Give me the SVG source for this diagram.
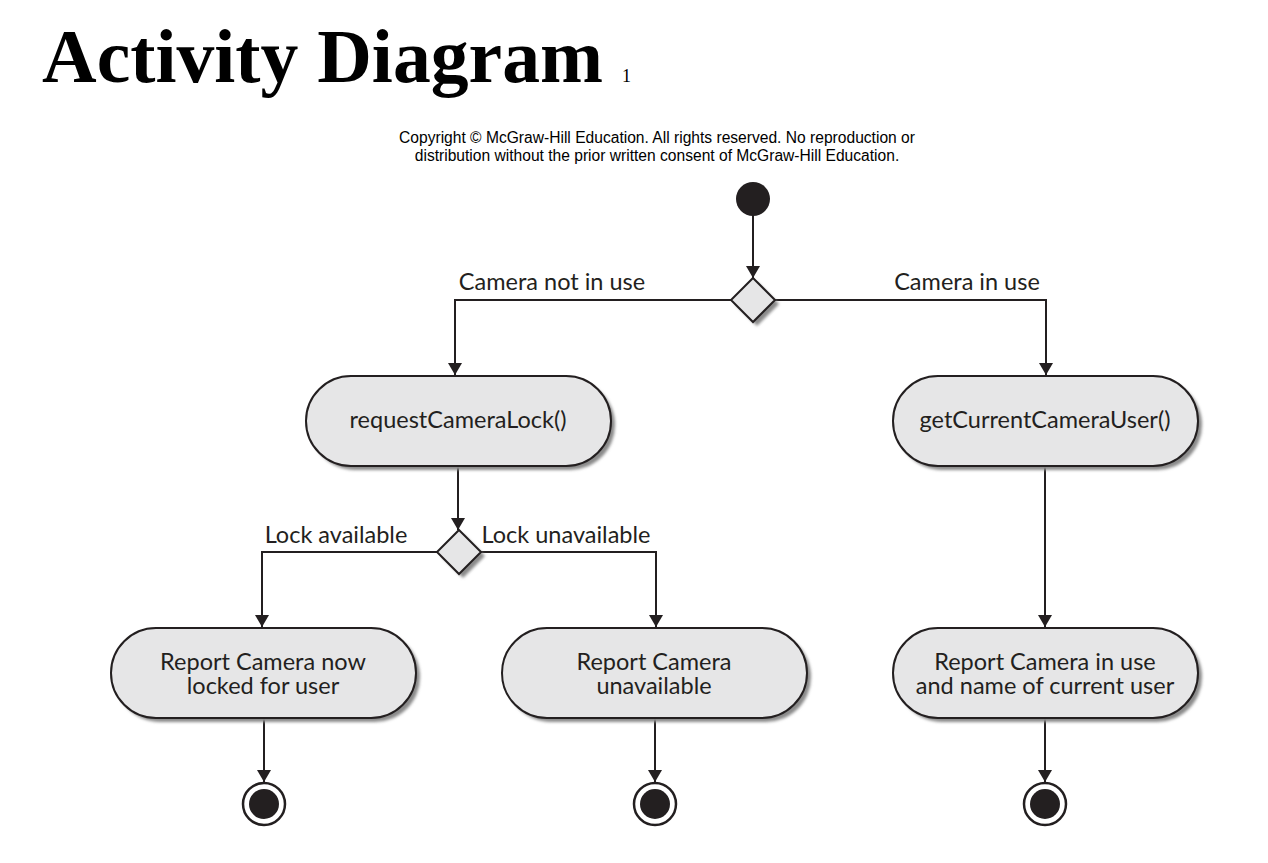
<svg xmlns="http://www.w3.org/2000/svg" width="1268" height="863" viewBox="0 0 1268 863">
<style>
.act{fill:#e6e6e7;stroke:#231f20;stroke-width:2}
.shd{fill:#8a8a8a}
.lbl{font-family:Lato,"Liberation Sans",sans-serif;font-size:23.5px;fill:#231f20}
.ctr{text-anchor:middle}
.edge{fill:none;stroke:#231f20;stroke-width:2}
.dot{fill:#231f20}
</style>
<defs>
<marker id="ah" viewBox="0 0 12 16" refX="12" refY="8" markerWidth="12" markerHeight="16" orient="auto" markerUnits="userSpaceOnUse">
<path d="M0,1 L12,8 L0,15 Z" fill="#231f20"/>
</marker>
<filter id="blur" x="-10%" y="-10%" width="120%" height="120%"><feGaussianBlur stdDeviation="1.5"/></filter>
</defs>
<rect width="1268" height="863" fill="#ffffff"/>
<g id="title">
<text x="42" y="82" font-family="Liberation Serif,serif" font-weight="bold" font-size="76" textLength="561" lengthAdjust="spacingAndGlyphs">Activity Diagram</text>
<text x="622" y="82" font-family="Liberation Serif,serif" font-size="18" fill="#000">1</text>
</g>
<g id="copyright" font-family="Liberation Sans,Arial,sans-serif" font-size="15.6" text-anchor="middle" fill="#000">
<text x="657" y="143">Copyright © McGraw-Hill Education. All rights reserved. No reproduction or</text>
<text x="657" y="161">distribution without the prior written consent of McGraw-Hill Education.</text>
</g>
<g id="connectors">
<line class="edge" x1="753" y1="215" x2="753" y2="278" marker-end="url(#ah)"/>
<polyline class="edge" points="731,300 455,300 455,375" marker-end="url(#ah)"/>
<polyline class="edge" points="775,300 1046,300 1046,375" marker-end="url(#ah)"/>
<line class="edge" x1="458" y1="467" x2="458" y2="530" marker-end="url(#ah)"/>
<polyline class="edge" points="437,552 262,552 262,627" marker-end="url(#ah)"/>
<polyline class="edge" points="481,552 656,552 656,627" marker-end="url(#ah)"/>
<line class="edge" x1="1045" y1="467" x2="1045" y2="627" marker-end="url(#ah)"/>
<line class="edge" x1="264" y1="719" x2="264" y2="782" marker-end="url(#ah)"/>
<line class="edge" x1="655" y1="719" x2="655" y2="782" marker-end="url(#ah)"/>
<line class="edge" x1="1045" y1="719" x2="1045" y2="782" marker-end="url(#ah)"/>
<text class="lbl ctr" x="552" y="290">Camera not in use</text>
<text class="lbl ctr" x="967" y="290">Camera in use</text>
<text class="lbl ctr" x="336" y="543">Lock available</text>
<text class="lbl ctr" x="566" y="543">Lock unavailable</text>
</g>
<g id="start"><circle class="dot" cx="753" cy="199" r="17"/></g>
<g id="decision1">
<path class="shd" filter="url(#blur)" d="M757,282 L779,304 L757,326 L735,304 Z"/>
<path class="act" d="M753,278 L775,300 L753,322 L731,300 Z"/>
</g>
<g id="requestCameraLock">
<rect class="shd" filter="url(#blur)" x="310" y="380" width="305" height="90" rx="45"/>
<rect class="act" x="306" y="376" width="305" height="90" rx="45"/>
<text class="lbl ctr" x="458" y="428">requestCameraLock()</text>
</g>
<g id="getCurrentCameraUser">
<rect class="shd" filter="url(#blur)" x="897" y="380" width="305" height="90" rx="45"/>
<rect class="act" x="893" y="376" width="305" height="90" rx="45"/>
<text class="lbl ctr" x="1045" y="428">getCurrentCameraUser()</text>
</g>
<g id="decision2">
<path class="shd" filter="url(#blur)" d="M463,534 L485,556 L463,578 L441,556 Z"/>
<path class="act" d="M459,530 L481,552 L459,574 L437,552 Z"/>
</g>
<g id="reportLocked">
<rect class="shd" filter="url(#blur)" x="115" y="632" width="305" height="90" rx="45"/>
<rect class="act" x="111" y="628" width="305" height="90" rx="45"/>
<text class="lbl ctr" x="263" y="670">Report Camera now</text>
<text class="lbl ctr" x="263" y="694">locked for user</text>
</g>
<g id="reportUnavailable">
<rect class="shd" filter="url(#blur)" x="506" y="632" width="305" height="90" rx="45"/>
<rect class="act" x="502" y="628" width="305" height="90" rx="45"/>
<text class="lbl ctr" x="654" y="670">Report Camera</text>
<text class="lbl ctr" x="654" y="694">unavailable</text>
</g>
<g id="reportInUse">
<rect class="shd" filter="url(#blur)" x="897" y="632" width="305" height="90" rx="45"/>
<rect class="act" x="893" y="628" width="305" height="90" rx="45"/>
<text class="lbl ctr" x="1045" y="670">Report Camera in use</text>
<text class="lbl ctr" x="1045" y="694">and name of current user</text>
</g>
<g id="end1">
<circle cx="264" cy="804" r="21" fill="#fff" stroke="#231f20" stroke-width="2.5"/>
<circle class="dot" cx="264" cy="804" r="15"/>
</g>
<g id="end2">
<circle cx="655" cy="804" r="21" fill="#fff" stroke="#231f20" stroke-width="2.5"/>
<circle class="dot" cx="655" cy="804" r="15"/>
</g>
<g id="end3">
<circle cx="1045" cy="804" r="21" fill="#fff" stroke="#231f20" stroke-width="2.5"/>
<circle class="dot" cx="1045" cy="804" r="15"/>
</g>
</svg>
